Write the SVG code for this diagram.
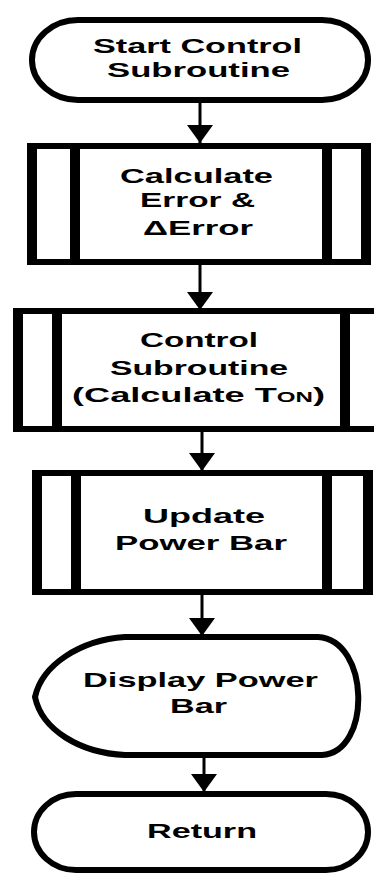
<svg xmlns="http://www.w3.org/2000/svg" width="374" height="875" viewBox="0 0 374 875">
<defs>
<style>
.shape{fill:#fff;stroke:#000;stroke-width:6;stroke-linejoin:round}
.bar{fill:#000}
.lbl{font-family:"Liberation Sans",Arial,sans-serif;font-weight:bold;font-size:21px;fill:#000}
.conn{stroke:#000;stroke-width:3;fill:none}
</style>
<marker id="ah" markerUnits="userSpaceOnUse" markerWidth="26" markerHeight="18" refX="13" refY="18" orient="0" viewBox="0 0 26 18">
<path d="M0 0 L26 0 L13 18 Z" fill="#000"/>
</marker>
</defs>
<rect width="374" height="875" fill="#fff"/>
<g id="connectors">
<line class="conn" x1="200" y1="101" x2="200" y2="143" marker-end="url(#ah)"/>
<line class="conn" x1="200" y1="264" x2="200" y2="310" marker-end="url(#ah)"/>
<line class="conn" x1="202" y1="431" x2="202" y2="471" marker-end="url(#ah)"/>
<line class="conn" x1="202" y1="594" x2="202" y2="636" marker-end="url(#ah)"/>
<line class="conn" x1="204" y1="756" x2="204" y2="792" marker-end="url(#ah)"/>
</g>
<g id="start">
<path class="shape" d="M78 20 L322 20 A46 40 0 0 1 322 100 L78 100 A46 40 0 0 1 78 20 Z"/>
<text class="lbl" x="93" y="53" textLength="209" lengthAdjust="spacingAndGlyphs">Start Control</text>
<text class="lbl" x="107" y="77" textLength="183" lengthAdjust="spacingAndGlyphs">Subroutine</text>
</g>
<g id="calc-error">
<rect class="shape" x="31" y="146" width="335" height="116"/>
<rect class="bar" x="27" y="143" width="10" height="122"/>
<rect class="bar" x="70" y="146" width="10" height="116"/>
<rect class="bar" x="322" y="146" width="10" height="116"/>
<rect class="bar" x="361" y="143" width="10" height="122"/>
<text class="lbl" x="120" y="183" textLength="153" lengthAdjust="spacingAndGlyphs">Calculate</text>
<text class="lbl" x="140" y="207" textLength="115" lengthAdjust="spacingAndGlyphs">Error &amp;</text>
<text class="lbl" x="143" y="235" textLength="110" lengthAdjust="spacingAndGlyphs">ΔError</text>
</g>
<g id="control-sub">
<rect class="shape" x="17" y="311" width="380" height="118"/>
<rect class="bar" x="13" y="308" width="10" height="124"/>
<rect class="bar" x="52" y="311" width="10" height="118"/>
<rect class="bar" x="340" y="311" width="10" height="118"/>
<text class="lbl" x="140" y="347" textLength="118" lengthAdjust="spacingAndGlyphs">Control</text>
<text class="lbl" x="110" y="375" textLength="178" lengthAdjust="spacingAndGlyphs">Subroutine</text>
<text class="lbl" x="72" y="402" textLength="253" lengthAdjust="spacingAndGlyphs">(Calculate T<tspan font-size="14">ON</tspan>)</text>
</g>
<g id="update-bar">
<rect class="shape" x="36" y="473" width="332" height="119"/>
<rect class="bar" x="32" y="470" width="10" height="125"/>
<rect class="bar" x="71" y="473" width="10" height="119"/>
<rect class="bar" x="322" y="473" width="10" height="119"/>
<rect class="bar" x="363" y="470" width="10" height="125"/>
<text class="lbl" x="143" y="523" textLength="122" lengthAdjust="spacingAndGlyphs">Update</text>
<text class="lbl" x="115" y="550" textLength="172" lengthAdjust="spacingAndGlyphs">Power Bar</text>
</g>
<g id="display-bar">
<path class="shape" d="M35 697 C42 665 80 640 125 637 L318 637 C370 640 372 752 322 755 L125 755 C80 753 42 730 35 697 Z"/>
<text class="lbl" x="83" y="687" textLength="235" lengthAdjust="spacingAndGlyphs">Display Power</text>
<text class="lbl" x="170" y="713" textLength="57" lengthAdjust="spacingAndGlyphs">Bar</text>
</g>
<g id="return">
<path class="shape" d="M76 794 L326 794 A42 38 0 0 1 326 870 L76 870 A42 38 0 0 1 76 794 Z"/>
<text class="lbl" x="147" y="838" textLength="110" lengthAdjust="spacingAndGlyphs">Return</text>
</g>
</svg>
